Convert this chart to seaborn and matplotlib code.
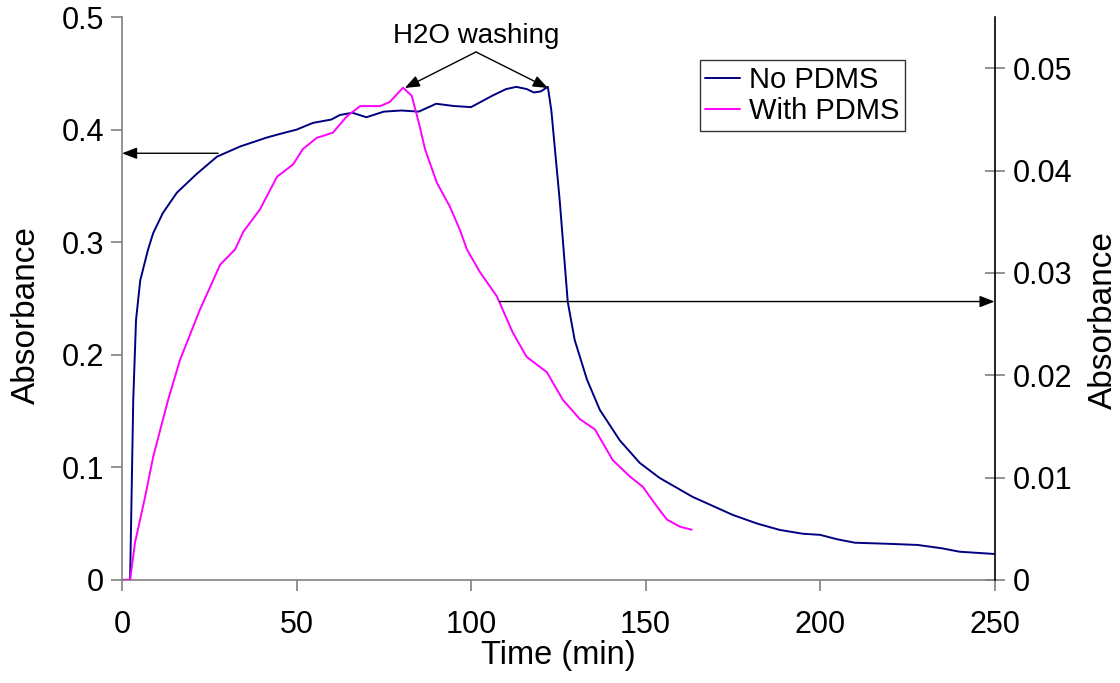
import numpy as np
import pandas as pd
import matplotlib
matplotlib.use("Agg")
import matplotlib.pyplot as plt
import seaborn as sns
from matplotlib.ticker import FuncFormatter

# ---- data ----
no_pdms_t = [0, 2, 2.3, 3.2, 4.0, 5.2, 7.4, 8.9, 11.7, 15.7, 21.5, 27.2, 33.8, 41.5,
             45, 50, 54.7, 60, 62.4, 66, 70, 73, 75, 80, 85, 90, 95, 100, 103, 106,
             110, 113, 116, 118, 120, 122, 123, 125.4, 127.7, 129.7, 133.2, 136.9,
             142.6, 148.3, 154, 163.5, 175, 182, 188.4, 195, 200, 205, 210, 220,
             228, 235, 240, 245, 250]
no_pdms_abs = [0, 0, 0, 0.16, 0.231, 0.266, 0.293, 0.308, 0.326, 0.344, 0.361, 0.376,
               0.385, 0.393, 0.396, 0.400, 0.406, 0.409, 0.413, 0.415, 0.411, 0.414,
               0.416, 0.417, 0.416, 0.423, 0.421, 0.420, 0.425, 0.430, 0.436, 0.438,
               0.436, 0.433, 0.434, 0.438, 0.417, 0.337, 0.247, 0.213, 0.178, 0.151,
               0.124, 0.104, 0.0906, 0.0737, 0.0577, 0.050, 0.0444, 0.041, 0.040,
               0.036, 0.033, 0.032, 0.031, 0.028, 0.025, 0.024, 0.023]

with_pdms_t = [0.9, 2.3, 3.7, 6.6, 8.9, 11.5, 13.2, 16.6, 22.3, 28.1, 32.4, 34.7, 39.5,
               44.4, 49.0, 51.8, 55.8, 60.4, 64.4, 68.2, 73.9, 76.7, 80.5, 83.0, 85.3,
               86.8, 90.2, 93.9, 96.8, 98.8, 102.5, 107.4, 111.9, 115.9, 121.7, 126.3,
               131.2, 135.5, 140.6, 145.5, 149.2, 153.2, 156.1, 159.8, 163.2]
with_pdms_abs = [0, 0, 0.00362, 0.00812, 0.0120, 0.0154, 0.0176, 0.0215, 0.0264, 0.0308,
                 0.0323, 0.0340, 0.0362, 0.0394, 0.0406, 0.0421, 0.0432, 0.0437, 0.0453,
                 0.0463, 0.0463, 0.0467, 0.0481, 0.0473, 0.0443, 0.0421, 0.0388, 0.0365,
                 0.0342, 0.0323, 0.0301, 0.0277, 0.0242, 0.0218, 0.0203, 0.0176, 0.0157,
                 0.0147, 0.0117, 0.0101, 0.0091, 0.0072, 0.0059, 0.0052, 0.0049]

x_ticks = [0, 50, 100, 150, 200, 250]
left_ticks = [0, 0.1, 0.2, 0.3, 0.4, 0.5]
right_ticks = [0, 0.01, 0.02, 0.03, 0.04, 0.05]

df_no = pd.DataFrame({"t": no_pdms_t, "a": no_pdms_abs})
df_with = pd.DataFrame({"t": with_pdms_t, "a": with_pdms_abs})

sns.set_style("white")
plt.rcParams["font.family"] = ["Liberation Sans", "DejaVu Sans"]
for k in ("text.color", "axes.labelcolor", "xtick.labelcolor", "ytick.labelcolor"):
    plt.rcParams[k] = "black"

fig = plt.figure(figsize=(11.2, 6.83), dpi=100)
ax = fig.add_axes([0.109, 0.151, 0.779, 0.824])
ax2 = ax.twinx()

navy = "#000080"
mag = "#FF00FF"
sns.lineplot(data=df_no, x="t", y="a", ax=ax, color=navy, lw=1.4, label="No PDMS", legend=False)
sns.lineplot(data=df_with, x="t", y="a", ax=ax2, color=mag, lw=1.4, label="With PDMS", legend=False)

ax.set_xlim(0, 250)
ax.set_ylim(0, 0.5)
ax2.set_ylim(0, 0.055)
ax.set_xticks(x_ticks)
ax.set_yticks(left_ticks)
ax2.set_yticks(right_ticks)
fmt = FuncFormatter(lambda v, p: "%g" % v)
ax.xaxis.set_major_formatter(fmt)
ax.yaxis.set_major_formatter(fmt)
ax2.yaxis.set_major_formatter(fmt)

for a in (ax, ax2):
    for s in a.spines.values():
        s.set_visible(False)
ax.spines["left"].set_visible(True)
ax.spines["bottom"].set_visible(True)
ax.spines["left"].set_color("#808080")
ax.spines["bottom"].set_color("#808080")
ax2.spines["right"].set_visible(True)
ax2.spines["right"].set_color("black")
for s in ("left", "bottom"):
    ax.spines[s].set_linewidth(1.2)
ax2.spines["right"].set_linewidth(1.2)

ax.tick_params(axis="both", which="major", direction="out", length=8, width=1.2,
               color="#808080", labelsize=22, pad=5, left=True, bottom=True)
ax.tick_params(axis="x", pad=14)
ax2.tick_params(axis="y", direction="inout", length=14, width=1.2, color="#808080",
                labelsize=22, pad=6, right=True)

ax.set_xlabel("Time (min)", fontsize=23.5, labelpad=0)
ax.set_ylabel("Absorbance", fontsize=24)
ax2.set_ylabel("Absorbance", fontsize=24)
ax.yaxis.set_label_coords(-0.092, 0.47)
ax2.yaxis.set_label_coords(1.107, 0.462)

# annotation arrows
arrow_kw = dict(arrowstyle="-|>,head_length=0.9,head_width=0.35", color="black", lw=1.0,
                shrinkA=0, shrinkB=0)
ax.annotate("", xy=(0, 0.379), xytext=(27.5, 0.379), arrowprops=arrow_kw)
ax2.annotate("", xy=(250, 0.0272), xytext=(108.2, 0.0272), arrowprops=arrow_kw,
             annotation_clip=False)
ax.text(101.4, 0.477, "H2O washing", fontsize=20, ha="center", va="baseline")
ax.annotate("", xy=(81, 0.437), xytext=(101.4, 0.469), arrowprops=arrow_kw)
ax.annotate("", xy=(122, 0.437), xytext=(101.4, 0.469), arrowprops=arrow_kw)

h1, l1 = ax.get_legend_handles_labels()
h2, l2 = ax2.get_legend_handles_labels()
leg = ax2.legend(h1 + h2, l1 + l2, loc="upper left", bbox_to_anchor=(0.662, 0.9236),
                 fontsize=21, frameon=True, fancybox=False, handlelength=1.2,
                 handletextpad=0.3, borderpad=0.2, labelspacing=0.12, borderaxespad=0)
leg.get_frame().set_edgecolor("black")
leg.get_frame().set_linewidth(1.0)

fig.savefig("out.png", dpi=100)
